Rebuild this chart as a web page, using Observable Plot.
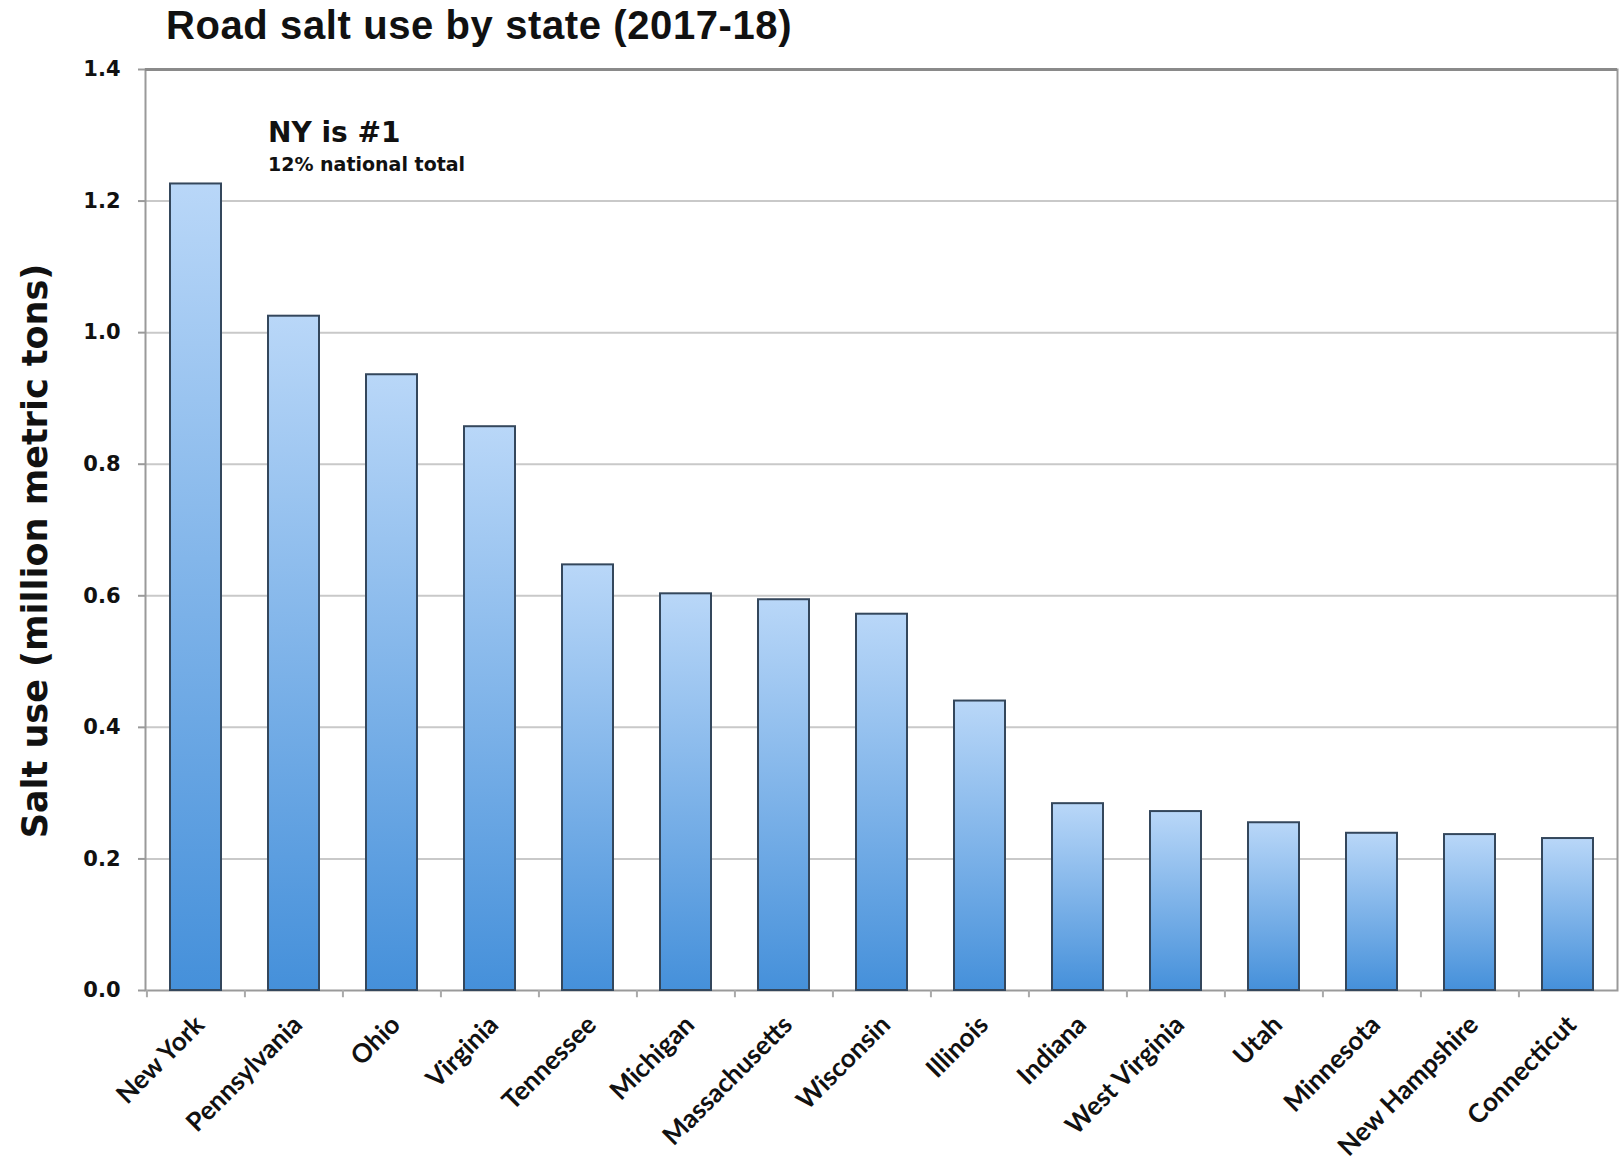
<!DOCTYPE html>
<html><head><meta charset="utf-8">
<script src="https://cdn.jsdelivr.net/npm/d3@7"></script>
<script src="https://cdn.jsdelivr.net/npm/@observablehq/plot@0.6"></script>
<style>
body{margin:0;background:#fff;}
#wrap{position:relative;width:1620px;height:1163px;}
#title{position:absolute;left:166px;top:5px;margin:0;font:bold 40px/1 "Liberation Sans";letter-spacing:0.6px;color:#111;white-space:nowrap;}
#chart svg [aria-label="y-axis tick label"] text{font-weight:bold;}
#chart svg [aria-label="x-axis tick label"] text{font-weight:bold;}
</style></head><body>
<div id="wrap"><h1 id="title">Road salt use by state (2017-18)</h1><div id="chart"></div></div>
<script>
const states = ["New York","Pennsylvania","Ohio","Virginia","Tennessee","Michigan","Massachusetts","Wisconsin","Illinois","Indiana","West Virginia","Utah","Minnesota","New Hampshire","Connecticut"];
const values = [1.226,1.025,0.936,0.857,0.647,0.603,0.594,0.572,0.440,0.284,0.272,0.255,0.239,0.237,0.231];
const yTicks = [0,0.2,0.4,0.6,0.8,1.0,1.2,1.4];
const yLabel = ["Salt use (million metric tons)"];
const noteTitle = [{state:"Pennsylvania", y:1.304, text:"NY is #1"}];
const noteSub = [{state:"Pennsylvania", y:1.255, text:"12% national total"}];

const data = states.map((s,i)=>({state:s, value:values[i]}));

const defs = () => {
  const s = d3.create("svg:defs");
  const g = s.append("linearGradient").attr("id","barGrad").attr("x1",0).attr("y1",0).attr("x2",0).attr("y2",1);
  g.append("stop").attr("offset","0%").attr("stop-color","#b9d7f8");
  g.append("stop").attr("offset","100%").attr("stop-color","#4590da");
  return s.node();
};

const chart = Plot.plot({
  width:1620, height:1163,
  marginLeft:145, marginRight:3, marginTop:69, marginBottom:173,
  x:{domain:states, paddingInner:0.48, paddingOuter:0.24},
  y:{domain:[0,1.4]},
  style:{fontFamily:"DejaVu Sans", background:"white", color:"#111"},
  marks:[
    defs,
    Plot.gridY(yTicks.filter(d=>d>0 && d<1.4), {stroke:"#c9c9c9", strokeOpacity:1, strokeWidth:2}),
    Plot.frame({stroke:"#9a9a9a", strokeWidth:2}),
    Plot.ruleY([1.4], {stroke:"#8a8a8a", strokeWidth:3}),
    Plot.ruleX(states, {x:d=>d, dx:-49.07, y1:0, y2:-0.011, stroke:"#aaa", strokeWidth:2}),
    Plot.barY(data, {x:"state", y:"value", fill:"url(#barGrad)", stroke:"#34475c", strokeWidth:2}),
    Plot.axisY({ticks:yTicks, tickFormat:d=>d.toFixed(1), tickSize:7, tickPadding:18, fontSize:21, fontWeight:"bold", label:null, stroke:"#9a9a9a", strokeWidth:2}),
    Plot.axisX({tickRotate:-45, tickSize:0, tickPadding:30, fontSize:26, fontWeight:"bold", fontFamily:"Lato", label:null, dx:4}),
    Plot.text(yLabel, {frameAnchor:"left", textAnchor:"middle", rotate:-90, dx:-110, dy:21, fontSize:35, fontWeight:"bold"}),
    Plot.text(noteTitle, {x:"state", y:"y", text:"text", dx:-26, textAnchor:"start", fontSize:28, fontWeight:"bold"}),
    Plot.text(noteSub, {x:"state", y:"y", text:"text", dx:-26, textAnchor:"start", fontSize:19, fontWeight:"bold"})
  ]
});
document.getElementById("chart").appendChild(chart);
</script>
</body></html>
